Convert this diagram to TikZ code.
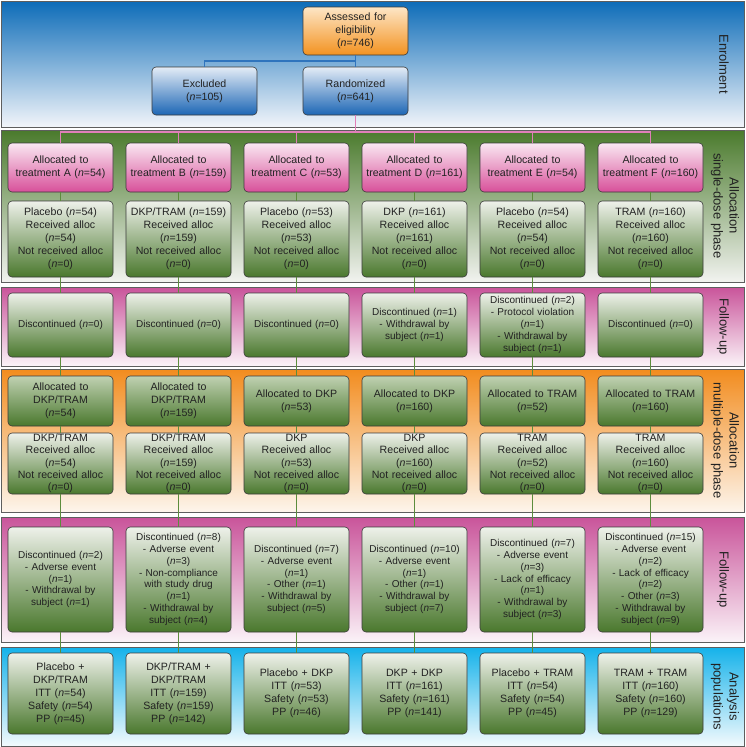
\documentclass[tikz,border=0pt]{standalone}
\usepackage{fontspec}
\setmainfont{Liberation Sans}
\definecolor{txt}{HTML}{222222}
\definecolor{boxline}{HTML}{3A3A3A}
\definecolor{bandline}{HTML}{5E5E5E}
\definecolor{gtop}{HTML}{EEF1EA}
\definecolor{gbot}{HTML}{4A782D}
\definecolor{gtopb}{HTML}{C0D1B2}
\definecolor{ptop}{HTML}{FAE8F2}
\definecolor{pbot}{HTML}{D8509A}
\definecolor{btop}{HTML}{E4ECF6}
\definecolor{bbot}{HTML}{1C66B5}
\definecolor{otop}{HTML}{FDE6C6}
\definecolor{obot}{HTML}{F39220}
\definecolor{enrtop}{HTML}{0D6CB8}
\definecolor{enrbot}{HTML}{F2F5FA}
\definecolor{grtop}{HTML}{4A7A2C}
\definecolor{grmid}{HTML}{759A58}
\definecolor{grbot}{HTML}{F2F3F0}
\definecolor{mgtop}{HTML}{C9549A}
\definecolor{mgbot}{HTML}{FBF3F8}
\definecolor{ortop}{HTML}{F28C1E}
\definecolor{orbot}{HTML}{FDF5EC}
\definecolor{cytop}{HTML}{14B2EA}
\definecolor{cybot}{HTML}{F3FAFD}
\definecolor{gline}{HTML}{5C8C3C}
\definecolor{pline}{HTML}{E07FB8}
\definecolor{bline}{HTML}{2F74BD}
\newcommand{\nis}[1]{(\textit{n}=#1)}
\begin{document}
\begin{tikzpicture}[x=1pt,y=-1pt,
  box/.style={draw=boxline, line width=0.6pt, rounded corners=4pt,
    minimum width=105pt, text width=101pt, align=center, inner sep=0pt,
    text=txt, font=\fontsize{10.6}{13}\selectfont},
  gbox/.style={box, top color=gtop, bottom color=gbot},
  gboxb/.style={box, top color=gtopb, bottom color=gbot},
  fbox/.style={gbox, font=\fontsize{10}{11.8}\selectfont},
  pbox/.style={box, top color=ptop, bottom color=pbot},
  bbox/.style={box, top color=btop, bottom color=bbot},
  obox/.style={box, top color=otop, bottom color=obot},
  band/.style={draw=bandline, line width=0.7pt},
  lab/.style={rotate=-90, align=center, text=txt, font=\fontsize{13}{16}\selectfont},
  gcon/.style={draw=gline, line width=1.1pt},
  pcon/.style={draw=pline, line width=1.1pt},
  bcon/.style={draw=bline, line width=1.1pt}
]
\useasboundingbox (0,0) rectangle (745,747);
% bands
\shade[top color=enrtop, bottom color=enrbot] (1,1) rectangle (744,127);
\draw[band] (1,1) rectangle (744,127);
\shade[top color=grtop, middle color=grmid, bottom color=grbot] (1,130) rectangle (744,282);
\draw[band] (1,130) rectangle (744,282);
\shade[top color=mgtop, bottom color=mgbot] (1,287) rectangle (744,366);
\draw[band] (1,287) rectangle (744,366);
\shade[top color=ortop, bottom color=orbot] (1,369) rectangle (744,512);
\draw[band] (1,369) rectangle (744,512);
\shade[top color=mgtop, bottom color=mgbot] (1,517) rectangle (744,642);
\draw[band] (1,517) rectangle (744,642);
\shade[top color=cytop, bottom color=cybot] (1,647) rectangle (744,746);
\draw[band] (1,647) rectangle (744,746);
% labels
\node[lab] (lenr) at (724,64) {Enrolment};
\node[lab] (lsd) at (725,206) {Allocation\\single-dose phase};
\node[lab] (lfu1) at (723,326.5) {Follow-up};
\node[lab] (lmd) at (725,440.5) {Allocation\\multiple-dose phase};
\node[lab] (lfu2) at (723,579.5) {Follow-up};
\node[lab] (lan) at (725,696.5) {Analysis\\populations};
% enrolment
\node[obox, minimum height=48pt] (ass) at (355.5,31) {Assessed for\\eligibility\\\nis{746}};
\node[bbox, minimum height=48pt] (exc) at (204.5,91) {Excluded\\\nis{105}};
\node[bbox, minimum height=48pt] (rnd) at (355.5,91) {Randomized\\\nis{641}};
% single-dose allocation
\node[pbox, minimum height=49pt] (sa1) at (60.5,167.5) {Allocated to\\treatment A \nis{54}};
\node[pbox, minimum height=49pt] (sa2) at (178.5,167.5) {Allocated to\\treatment B \nis{159}};
\node[pbox, minimum height=49pt] (sa3) at (296.5,167.5) {Allocated to\\treatment C \nis{53}};
\node[pbox, minimum height=49pt] (sa4) at (414.5,167.5) {Allocated to\\treatment D \nis{161}};
\node[pbox, minimum height=49pt] (sa5) at (532.5,167.5) {Allocated to\\treatment E \nis{54}};
\node[pbox, minimum height=49pt] (sa6) at (650.5,167.5) {Allocated to\\treatment F \nis{160}};
\node[gbox, minimum height=76pt] (sr1) at (60.5,239) {Placebo \nis{54}\\Received alloc\\\nis{54}\\Not received alloc\\\nis{0}};
\node[gbox, minimum height=76pt] (sr2) at (178.5,239) {DKP/TRAM \nis{159}\\Received alloc\\\nis{159}\\Not received alloc\\\nis{0}};
\node[gbox, minimum height=76pt] (sr3) at (296.5,239) {Placebo \nis{53}\\Received alloc\\\nis{53}\\Not received alloc\\\nis{0}};
\node[gbox, minimum height=76pt] (sr4) at (414.5,239) {DKP \nis{161}\\Received alloc\\\nis{161}\\Not received alloc\\\nis{0}};
\node[gbox, minimum height=76pt] (sr5) at (532.5,239) {Placebo \nis{54}\\Received alloc\\\nis{54}\\Not received alloc\\\nis{0}};
\node[gbox, minimum height=76pt] (sr6) at (650.5,239) {TRAM \nis{160}\\Received alloc\\\nis{160}\\Not received alloc\\\nis{0}};
% follow-up 1
\node[fbox, minimum height=64pt] (f1) at (60.5,325) {Discontinued \nis{0}};
\node[fbox, minimum height=64pt] (f2) at (178.5,325) {Discontinued \nis{0}};
\node[fbox, minimum height=64pt] (f3) at (296.5,325) {Discontinued \nis{0}};
\node[fbox, minimum height=64pt] (f4) at (414.5,325) {Discontinued \nis{1}\\- Withdrawal by\\subject \nis{1}};
\node[fbox, minimum height=64pt] (f5) at (532.5,325) {Discontinued \nis{2}\\- Protocol violation\\\nis{1}\\- Withdrawal by\\subject \nis{1}};
\node[fbox, minimum height=64pt] (f6) at (650.5,325) {Discontinued \nis{0}};
% multiple-dose allocation
\node[gboxb, minimum height=50pt] (ma1) at (60.5,401) {Allocated to\\DKP/TRAM\\\nis{54}};
\node[gboxb, minimum height=50pt] (ma2) at (178.5,401) {Allocated to\\DKP/TRAM\\\nis{159}};
\node[gboxb, minimum height=50pt] (ma3) at (296.5,401) {Allocated to DKP\\\nis{53}};
\node[gboxb, minimum height=50pt] (ma4) at (414.5,401) {Allocated to DKP\\\nis{160}};
\node[gboxb, minimum height=50pt] (ma5) at (532.5,401) {Allocated to TRAM\\\nis{52}};
\node[gboxb, minimum height=50pt] (ma6) at (650.5,401) {Allocated to TRAM\\\nis{160}};
\node[gbox, minimum height=61pt, font=\fontsize{10.6}{12.3}\selectfont] (mr1) at (60.5,463.5) {DKP/TRAM\\Received alloc\\\nis{54}\\Not received alloc\\\nis{0}};
\node[gbox, minimum height=61pt, font=\fontsize{10.6}{12.3}\selectfont] (mr2) at (178.5,463.5) {DKP/TRAM\\Received alloc\\\nis{159}\\Not received alloc\\\nis{0}};
\node[gbox, minimum height=61pt, font=\fontsize{10.6}{12.3}\selectfont] (mr3) at (296.5,463.5) {DKP\\Received alloc\\\nis{53}\\Not received alloc\\\nis{0}};
\node[gbox, minimum height=61pt, font=\fontsize{10.6}{12.3}\selectfont] (mr4) at (414.5,463.5) {DKP\\Received alloc\\\nis{160}\\Not received alloc\\\nis{0}};
\node[gbox, minimum height=61pt, font=\fontsize{10.6}{12.3}\selectfont] (mr5) at (532.5,463.5) {TRAM\\Received alloc\\\nis{52}\\Not received alloc\\\nis{0}};
\node[gbox, minimum height=61pt, font=\fontsize{10.6}{12.3}\selectfont] (mr6) at (650.5,463.5) {TRAM\\Received alloc\\\nis{160}\\Not received alloc\\\nis{0}};
% follow-up 2
\node[fbox, minimum height=105pt] (g1) at (60.5,579.5) {Discontinued \nis{2}\\- Adverse event\\\nis{1}\\- Withdrawal by\\subject \nis{1}};
\node[fbox, minimum height=105pt] (g2) at (178.5,579.5) {Discontinued \nis{8}\\- Adverse event\\\nis{3}\\- Non-compliance\\with study drug\\\nis{1}\\- Withdrawal by\\subject \nis{4}};
\node[fbox, minimum height=105pt] (g3) at (296.5,579.5) {Discontinued \nis{7}\\- Adverse event\\\nis{1}\\- Other \nis{1}\\- Withdrawal by\\subject \nis{5}};
\node[fbox, minimum height=105pt] (g4) at (414.5,579.5) {Discontinued \nis{10}\\- Adverse event\\\nis{1}\\- Other \nis{1}\\- Withdrawal by\\subject \nis{7}};
\node[fbox, minimum height=105pt] (g5) at (532.5,579.5) {Discontinued \nis{7}\\- Adverse event\\\nis{3}\\- Lack of efficacy\\\nis{1}\\- Withdrawal by\\subject \nis{3}};
\node[fbox, minimum height=105pt] (g6) at (650.5,579.5) {Discontinued \nis{15}\\- Adverse event\\\nis{2}\\- Lack of efficacy\\\nis{2}\\- Other \nis{3}\\- Withdrawal by\\subject \nis{9}};
% analysis
\node[gbox, minimum height=81pt] (an1) at (60.5,693.5) {Placebo +\\DKP/TRAM\\ITT \nis{54}\\Safety \nis{54}\\PP \nis{45}};
\node[gbox, minimum height=81pt] (an2) at (178.5,693.5) {DKP/TRAM +\\DKP/TRAM\\ITT \nis{159}\\Safety \nis{159}\\PP \nis{142}};
\node[gbox, minimum height=81pt] (an3) at (296.5,693.5) {Placebo + DKP\\ITT \nis{53}\\Safety \nis{53}\\PP \nis{46}};
\node[gbox, minimum height=81pt] (an4) at (414.5,693.5) {DKP + DKP\\ITT \nis{161}\\Safety \nis{161}\\PP \nis{141}};
\node[gbox, minimum height=81pt] (an5) at (532.5,693.5) {Placebo + TRAM\\ITT \nis{54}\\Safety \nis{54}\\PP \nis{45}};
\node[gbox, minimum height=81pt] (an6) at (650.5,693.5) {TRAM + TRAM\\ITT \nis{160}\\Safety \nis{160}\\PP \nis{129}};
% connectors
\coordinate (bj) at (355.5,61);
\draw[bcon] (ass.south) -- (rnd.north);
\draw[bcon] (bj) -| (exc.north);
\coordinate (pj) at (355.5,132);
\draw[pcon] (rnd.south) -- (pj);
\draw[pcon] (sa1.north) -- (sa1.north |- pj) -- (sa6.north |- pj) -- (sa6.north);
\foreach \i in {2,3,4,5} {\draw[pcon] (sa\i.north) -- (sa\i.north |- pj);}
\foreach \i in {1,...,6} {
  \draw[gcon] (sa\i.south) -- (sr\i.north);
  \draw[gcon] (sr\i.south) -- (f\i.north);
  \draw[gcon] (f\i.south) -- (ma\i.north);
  \draw[gcon] (ma\i.south) -- (mr\i.north);
  \draw[gcon] (mr\i.south) -- (g\i.north);
  \draw[gcon] (g\i.south) -- (an\i.north);
}
\end{tikzpicture}
\end{document}
